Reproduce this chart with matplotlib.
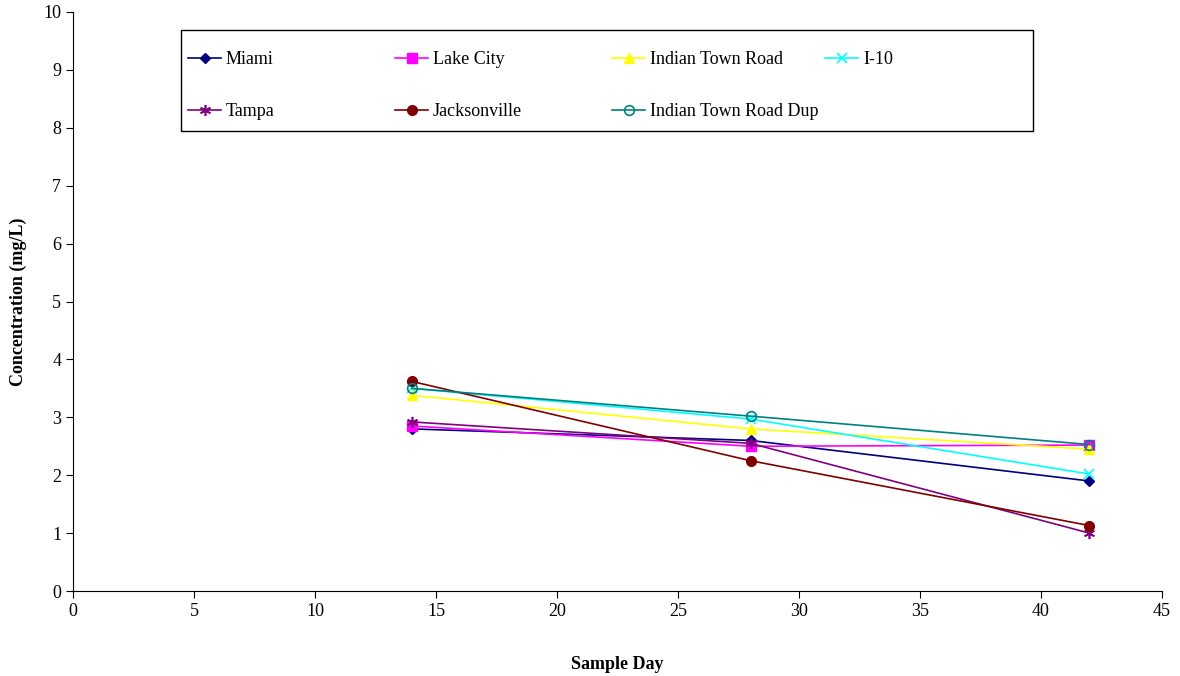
import matplotlib.pyplot as plt
from matplotlib.patches import Rectangle

plt.rcParams['font.family'] = ['Liberation Serif', 'DejaVu Serif']

days = [14, 28, 42]
miami = [2.80, 2.60, 1.90]
lake_city = [2.85, 2.50, 2.52]
indian_town = [3.38, 2.80, 2.45]
i10 = [3.50, 2.97, 2.02]
tampa = [2.92, 2.55, 1.00]
jacksonville = [3.62, 2.25, 1.13]
indian_town_dup = [3.50, 3.02, 2.53]

W, H = 1180, 676
fig = plt.figure(figsize=(W / 100, H / 100), dpi=100)
ax = fig.add_axes([73 / W, 1 - 591 / H, 1089 / W, 579 / H])

ax.plot(days, miami, color='#000080', marker='D', ms=5, lw=1.2, label='Miami')
ax.plot(days, lake_city, color='#FF00FF', marker='s', ms=7, lw=1.2, label='Lake City')
ax.plot(days, indian_town, color='#FFFF00', marker='^', ms=7, lw=1.2, label='Indian Town Road')
ax.plot(days, i10, color='#00FFFF', marker='x', ms=7, mew=1.2, lw=1.2, label='I-10')
ax.plot(days, tampa, color='#800080', marker=(6, 2, 0), ms=8, mew=1.2, lw=1.2, label='Tampa')
ax.plot(days, jacksonville, color='#800000', marker='o', ms=7, lw=1.2, label='Jacksonville')
ax.plot(days, indian_town_dup, color='#008080', marker='o', ms=7, mfc='none', mew=1.2, lw=1.2,
        label='Indian Town Road Dup')

ax.set_xlim(0, 45)
ax.set_ylim(0, 10)
ax.set_xticks(range(0, 46, 5))
ax.set_yticks(range(0, 11))
ax.tick_params(labelsize=13, direction='out', length=5)
ax.spines['top'].set_visible(False)
ax.spines['right'].set_visible(False)
ax.set_xlabel('Sample Day', fontsize=13, fontweight='bold', labelpad=26)
ax.set_ylabel('Concentration (mg/L)', fontsize=13, fontweight='bold', labelpad=12)

# legend box drawn separately, columns placed at fixed spacing like the original
fig.add_artist(Rectangle((181 / W, 1 - 131 / H), (1033 - 181) / W, 101 / H,
                         transform=fig.transFigure, fill=False, edgecolor='black', lw=1))
h, l = ax.get_legend_handles_labels()
columns = [[0, 4], [1, 5], [2, 6], [3]]
col_x = [188, 395, 612, 825]
for idx, x in zip(columns, col_x):
    leg = fig.legend([h[i] for i in idx], [l[i] for i in idx], loc='upper left',
                     bbox_to_anchor=(x / W, 1 - 51 / H), frameon=False, fontsize=13,
                     handlelength=1.85, handletextpad=0.25, labelspacing=1.95,
                     borderpad=0, borderaxespad=0)

fig.savefig('out.png', dpi=100)
